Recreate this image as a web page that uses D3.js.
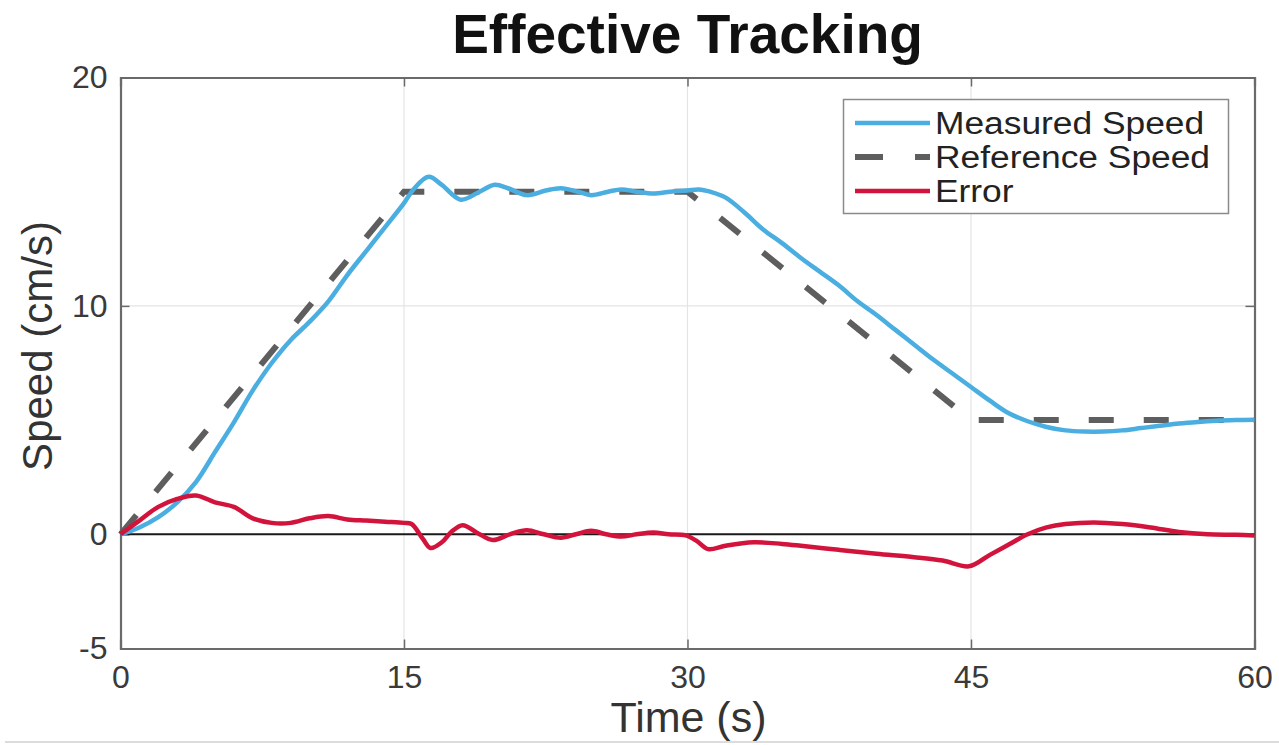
<!DOCTYPE html>
<html><head><meta charset="utf-8">
<script src="https://cdn.jsdelivr.net/npm/d3@7"></script>
<style>body{margin:0;background:#fff;} svg{display:block;font-family:"Liberation Sans",Arial,sans-serif;}</style>
</head><body>
<svg id="chart" width="1279" height="745"></svg>
<script>
const title = "Effective Tracking";
const xLabel = "Time (s)";
const yLabel = "Speed (cm/s)";
const xTicks = [0, 15, 30, 45, 60];
const yTicks = [-5, 0, 10, 20];
const seriesNames = ["Measured Speed", "Reference Speed", "Error"];

const refT = [0, 15, 30, 45, 60];
const refV = [0, 15, 15, 5, 5];

const measT = [0,1,2,3,4,5,6,7,8,9,10,11,12,13,14,15,15.5,16.3,17,18,19,19.8,20.5,21.5,22.5,23.3,24.2,24.9,25.8,26.5,27.3,28.2,29.1,30,30.6,31.2,32,33,34,35,36,37,38,39,40,41,42,43,44,45,46,47,48,49,50,51,52,53,54,55,56,57,58,59,60];
const measV = [0,0.3,0.75,1.4,2.3,3.6,4.9,6.3,7.5,8.5,9.3,10.2,11.35,12.4,13.45,14.5,15.1,15.65,15.3,14.65,15.0,15.3,15.15,14.85,15.05,15.15,15.0,14.85,15.0,15.1,15.0,14.92,15.0,15.05,15.1,15.0,14.75,14.1,13.35,12.75,12.1,11.5,10.9,10.2,9.6,8.95,8.3,7.65,7.05,6.45,5.85,5.3,4.95,4.7,4.55,4.5,4.5,4.55,4.65,4.75,4.85,4.92,4.97,5.0,5.02];

const errT = [0,1,2,3,4,5,6,7,8,9,10,11,12,13,14,15,15.4,16,16.4,17,17.5,18.1,18.9,19.7,20.6,21.5,22.4,23.3,24.1,24.9,25.7,26.5,27.3,28.2,29,29.9,30.5,31.1,32,33.5,35,36,38,40,42,43.5,44.9,46,47,48,49,50,51.5,53,54.5,56,57.5,59,60];
const errV = [0,0.6,1.2,1.55,1.7,1.4,1.2,0.7,0.5,0.5,0.7,0.8,0.65,0.6,0.55,0.5,0.45,-0.2,-0.6,-0.35,0.1,0.4,0.05,-0.25,0.0,0.18,0.0,-0.15,0.0,0.15,0.0,-0.1,0.0,0.08,0.0,-0.05,-0.3,-0.65,-0.5,-0.35,-0.42,-0.5,-0.68,-0.85,-1.0,-1.15,-1.4,-0.9,-0.45,0.0,0.3,0.45,0.52,0.45,0.3,0.1,0.0,-0.02,-0.05];

const svg = d3.select("#chart");
const L = 120.5, R = 1254.5, T = 77.5, B = 648.5;
const x = d3.scaleLinear().domain([0, 60]).range([L, R]);
const y = d3.scaleLinear().domain([-5, 20]).range([B, T]);

// grid
const g = svg.append("g");
g.selectAll(".vg").data(xTicks.slice(1, -1)).enter().append("line")
  .attr("x1", d => x(d)).attr("x2", d => x(d)).attr("y1", T).attr("y2", B)
  .attr("stroke", "#e4e4e4").attr("stroke-width", 1.2);
g.selectAll(".hg").data([0, 10]).enter().append("line")
  .attr("x1", L).attr("x2", R).attr("y1", d => y(d)).attr("y2", d => y(d))
  .attr("stroke", "#e4e4e4").attr("stroke-width", 1.2);

// axes
const axisColor = "#6a6a6a";
const fmt = d => String(d);
const xb = svg.append("g").attr("transform", `translate(0,${B})`)
  .call(d3.axisBottom(x).tickValues(xTicks).tickSize(-9).tickPadding(17).tickFormat(fmt));
const xt = svg.append("g").attr("transform", `translate(0,${T})`)
  .call(d3.axisTop(x).tickValues(xTicks).tickSize(-9).tickFormat(""));
const yl = svg.append("g").attr("transform", `translate(${L},0)`)
  .call(d3.axisLeft(y).tickValues(yTicks).tickSize(-9).tickPadding(13).tickFormat(fmt));
const yr = svg.append("g").attr("transform", `translate(${R},0)`)
  .call(d3.axisRight(y).tickValues(yTicks).tickSize(-9).tickFormat(""));
[xb, xt, yl, yr].forEach(a => {
  a.select(".domain").attr("stroke", axisColor).attr("stroke-width", 2.2);
  a.selectAll(".tick line").attr("stroke", axisColor).attr("stroke-width", 1.5);
  a.selectAll("text").attr("fill", "#3a3a3a").style("font-size", "32px")
    .style("font-family", "'Liberation Sans', Arial, sans-serif");
});
xb.selectAll("text").attr("dy", "0.71em");

// zero line
svg.append("line").attr("x1", L).attr("x2", R).attr("y1", y(0)).attr("y2", y(0))
  .attr("stroke", "#1a1a1a").attr("stroke-width", 2);

const plot = svg.append("g");
const smooth = d3.line().x(d => x(d[0])).y(d => y(d[1])).curve(d3.curveCatmullRom.alpha(0.5));
const straight = d3.line().x(d => x(d[0])).y(d => y(d[1]));

const colors = {meas: "#4aaee0", ref: "#5e5e5e", err: "#d2143c"};

plot.append("path").datum(refT.map((t, i) => [t, refV[i]]))
  .attr("d", straight).attr("fill", "none").attr("stroke", colors.ref)
  .attr("stroke-width", 6).attr("stroke-dasharray", "25,30");
plot.append("path").datum(measT.map((t, i) => [t, measV[i]]))
  .attr("d", smooth).attr("fill", "none").attr("stroke", colors.meas)
  .attr("stroke-width", 4.5).attr("stroke-linejoin", "round");
plot.append("path").datum(errT.map((t, i) => [t, errV[i]]))
  .attr("d", smooth).attr("fill", "none").attr("stroke", colors.err)
  .attr("stroke-width", 4.5).attr("stroke-linejoin", "round");

// title & labels
svg.append("text").attr("x", (L + R) / 2).attr("y", 53).attr("text-anchor", "middle")
  .style("font-size", "55px").style("font-weight", "bold").attr("fill", "#111").text(title);
svg.append("text").attr("x", (L + R) / 2 + 1).attr("y", 732).attr("text-anchor", "middle")
  .style("font-size", "43px").attr("fill", "#333").text(xLabel);
svg.append("text").attr("transform", `translate(52,346) rotate(-90)`).attr("text-anchor", "middle")
  .style("font-size", "42px").attr("fill", "#333").text(yLabel);

// legend
const lg = svg.append("g");
lg.append("rect").attr("x", 843.5).attr("y", 99.5).attr("width", 385).attr("height", 114)
  .attr("fill", "#fff").attr("stroke", "#8a8a8a").attr("stroke-width", 1.5);
const rows = [
  {name: seriesNames[0], color: colors.meas, dash: null, w: 4.5},
  {name: seriesNames[1], color: colors.ref, dash: "28,32", w: 6},
  {name: seriesNames[2], color: colors.err, dash: null, w: 4.5}
];
const rowY = [123, 157, 191];
rows.forEach((r, i) => {
  const ln = lg.append("line").attr("x1", 855).attr("x2", 930).attr("y1", rowY[i]).attr("y2", rowY[i])
    .attr("stroke", r.color).attr("stroke-width", r.w);
  if (r.dash) ln.attr("stroke-dasharray", r.dash);
  lg.append("text").attr("transform", `translate(935,${rowY[i]}) scale(1.14,1)`).attr("dy", "0.36em")
    .style("font-size", "31px").attr("fill", "#222").text(r.name);
});

// bottom separator line
svg.append("line").attr("x1", 5).attr("x2", 1279).attr("y1", 742).attr("y2", 742)
  .attr("stroke", "#dcdcdc").attr("stroke-width", 2);
</script>
</body></html>
